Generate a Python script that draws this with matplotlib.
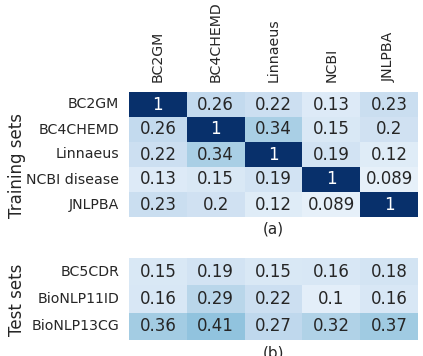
import numpy as np
import matplotlib
matplotlib.use('Agg')
from matplotlib import pyplot as plt
import seaborn as sns

train_sets = ['BC2GM', 'BC4CHEMD', 'Linnaeus', 'NCBI disease', 'JNLPBA']
col_labels = ['BC2GM', 'BC4CHEMD', 'Linnaeus', 'NCBI', 'JNLPBA']
test_sets = ['BC5CDR', 'BioNLP11ID', 'BioNLP13CG']

train_sim = [[1, 0.26, 0.22, 0.13, 0.23],
             [0.26, 1, 0.34, 0.15, 0.2],
             [0.22, 0.34, 1, 0.19, 0.12],
             [0.13, 0.15, 0.19, 1, 0.089],
             [0.23, 0.2, 0.12, 0.089, 1]]
test_sim = [[0.15, 0.19, 0.15, 0.16, 0.18],
            [0.16, 0.29, 0.22, 0.1, 0.16],
            [0.36, 0.41, 0.27, 0.32, 0.37]]

dark = '#262626'
plt.rcParams['text.color'] = dark
plt.rcParams['xtick.color'] = dark
plt.rcParams['ytick.color'] = dark

W, H = 423, 356
fig = plt.figure(figsize=(W / 100, H / 100), dpi=100)
axa = fig.add_axes([129 / W, 1 - 217 / H, 289 / W, 125 / H])
axb = fig.add_axes([129 / W, 1 - 340 / H, 289 / W, 82 / H])

kw = dict(cmap='Blues', vmin=0, vmax=1, annot=True, cbar=False,
          annot_kws={'fontsize': 12})
sns.heatmap(np.array(train_sim), ax=axa, xticklabels=col_labels,
            yticklabels=train_sets, **kw)
sns.heatmap(np.array(test_sim), ax=axb, xticklabels=False,
            yticklabels=test_sets, **kw)

axa.xaxis.tick_top()
axa.set_xticklabels(col_labels, rotation=90, fontsize=10.2)
for ax in (axa, axb):
    ax.set_yticklabels(ax.get_yticklabels(), rotation=0, fontsize=10.2)
    ax.tick_params(length=0, pad=7)

# axis titles and captions
fig.text(26 / W, 1 - 166 / H, 'Training sets', rotation=90, fontsize=12,
         ha='right', va='center')
fig.text(26 / W, 1 - 300 / H, 'Test sets', rotation=90, fontsize=12,
         ha='right', va='center')
fig.text(273 / W, 1 - 222 / H, '(a)', fontsize=11, ha='center', va='top')
fig.text(273 / W, 1 - 345 / H, '(b)', fontsize=11, ha='center', va='top')

fig.savefig('out.png', dpi=100)
